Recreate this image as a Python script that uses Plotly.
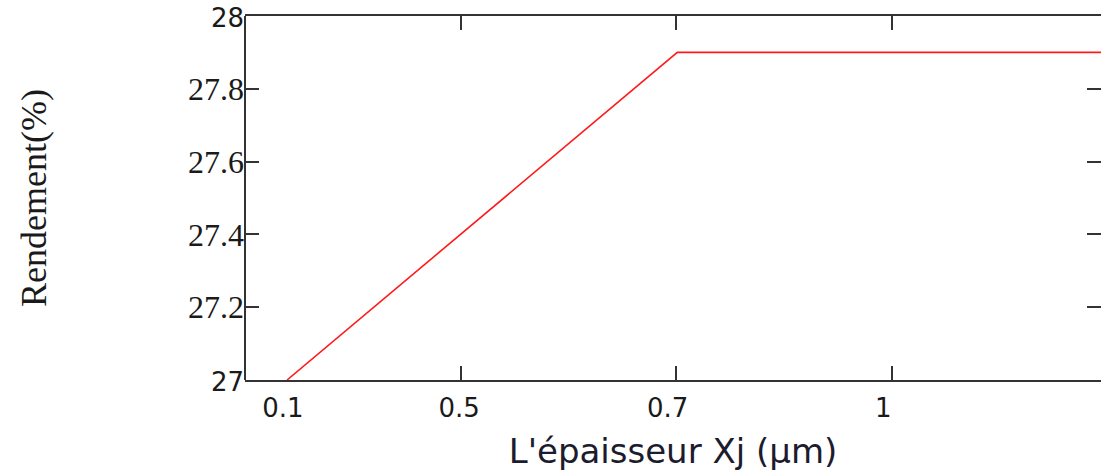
import plotly.graph_objects as go

# Data (x in axis units where the tick marks sit at 0,1,2,3,4)
x_pos = [0.195, 2.005, 3.97]
rendement = [27.0, 27.9, 27.9]

# x tick labels (as printed on the chart) and their positions
x_label_pos = [0.176, 0.993, 1.96, 2.96]
x_labels = ["0.1", "0.5", "0.7", "1"]
x_tick_marks = [1, 2, 3]

# y ticks
y_ticks = [27.0, 27.2, 27.4, 27.6, 27.8, 28.0]
y_labels = ['<span style="font-family:DejaVu Sans;font-size:26px">27</span>',
            "27.2", "27.4", "27.6", "27.8",
            '<span style="font-family:DejaVu Sans;font-size:26px">28</span>']

AX = "#333333"

fig = go.Figure()
fig.add_trace(go.Scatter(x=x_pos, y=rendement, mode="lines",
                         line=dict(color="#ff1a1a", width=1.6),
                         showlegend=False, hoverinfo="skip"))
fig.add_trace(go.Scatter(x=x_pos, y=rendement, mode="lines", xaxis="x2",
                         line=dict(color="rgba(0,0,0,0)", width=0),
                         showlegend=False, hoverinfo="skip"))

fig.update_layout(
    width=1101, height=474, autosize=False,
    margin=dict(l=245, r=0, t=16, b=94),
    paper_bgcolor="white", plot_bgcolor="white",
    xaxis=dict(range=[0, 3.97], tickmode="array", tickvals=x_label_pos, ticktext=x_labels,
               ticks="", showline=False, showgrid=False, zeroline=False,
               tickfont=dict(family="DejaVu Sans", size=26, color="#1a1a1a"),
               ticklabelstandoff=10,
               title=dict(text="L'épaisseur Xj (µm)",
                          font=dict(family="DejaVu Sans", size=34, color="#1c1c2e"),
                          standoff=17)),
    xaxis2=dict(range=[0, 3.97], overlaying="x", anchor="y", side="bottom",
                tickmode="array", tickvals=x_tick_marks, ticks="inside", ticklen=14,
                tickwidth=2, tickcolor=AX, showticklabels=False,
                showline=True, linewidth=2, linecolor=AX, mirror="ticks",
                showgrid=False, zeroline=False),
    yaxis=dict(range=[27, 28], tickmode="array", tickvals=y_ticks, ticktext=y_labels,
               ticks="inside", ticklen=14, tickwidth=2, tickcolor=AX,
               showline=False, mirror="ticks", showgrid=False, zeroline=False,
               tickfont=dict(family="Liberation Serif", size=32, color="#1a1a1a"),
               title=dict(text="Rendement(%)",
                          font=dict(family="Liberation Serif", size=36, color="#1a1a1a"),
                          standoff=130)),
    shapes=[dict(type="line", xref="paper", yref="paper", x0=0, x1=0, y0=0, y1=1,
                 line=dict(color=AX, width=2))],
)

post = ("document.documentElement.style.overflow='hidden';"
        "document.body.style.margin='0';document.body.style.overflow='hidden';"
        "var gd=document.getElementById('{plot_id}');"
        "Plotly.relayout(gd,{width:1101,height:474});")

fig.write_html("out.html", config={"responsive": False, "displayModeBar": False},
               post_script=post)
